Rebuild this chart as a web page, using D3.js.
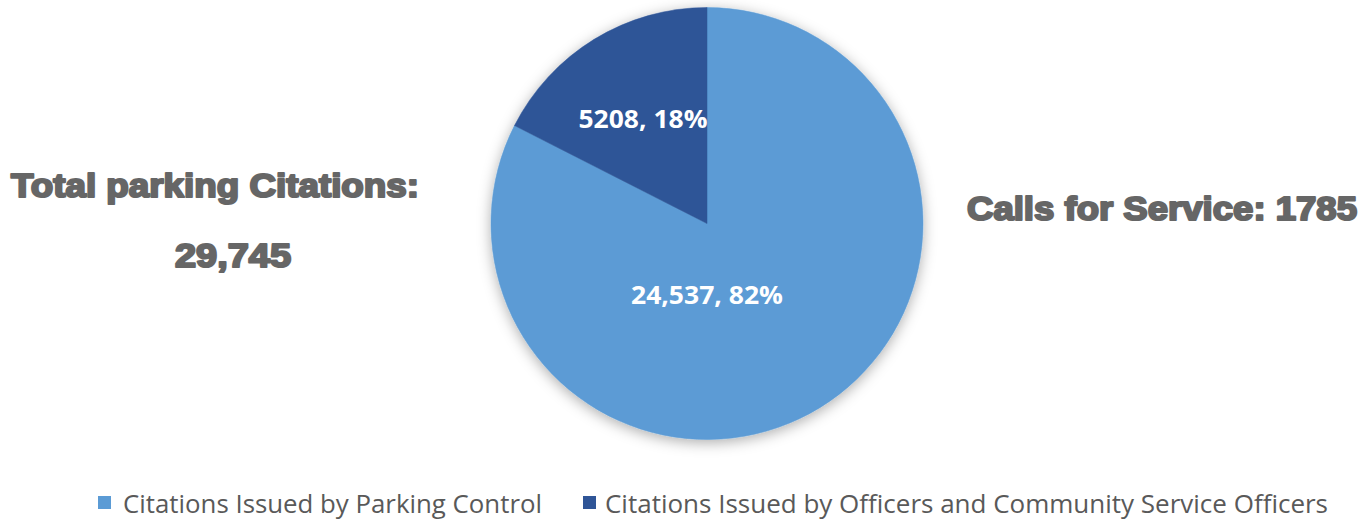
<!DOCTYPE html>
<html>
<head>
<meta charset="utf-8">
<script src="https://cdn.jsdelivr.net/npm/d3@7"></script>
<style>
  html, body { margin: 0; padding: 0; background: #ffffff; }
  svg { display: block; }
</style>
</head>
<body>
<svg id="chart" width="1370" height="520"></svg>
<script>
// ---- data ----
const categories = ["Citations Issued by Parking Control", "Citations Issued by Officers and Community Service Officers"];
const values = [24537, 5208];
const valueLabels = ["24,537", "5208"];
const percentLabels = ["82%", "18%"];
const colors = ["#5B9BD5", "#2F5597"];
const sideTitles = ["Total parking Citations:", "29,745", "Calls for Service: 1785"];

// ---- layout ----
const W = 1370, H = 520;
const cx = 707, cy = 223.5, R = 216;
const svg = d3.select("#chart");

const defs = svg.append("defs");
const f = defs.append("filter").attr("id", "shadow")
  .attr("x", "-20%").attr("y", "-20%").attr("width", "140%").attr("height", "140%");
f.append("feDropShadow").attr("dx", 0).attr("dy", 3).attr("stdDeviation", 7)
  .attr("flood-color", "#000").attr("flood-opacity", 0.32);

const data = categories.map((c, i) => ({ cat: c, value: values[i], vl: valueLabels[i], pl: percentLabels[i], color: colors[i] }));
const pie = d3.pie().value(d => d.value).sort(null);
const arcs = pie(data);
const arc = d3.arc().innerRadius(0).outerRadius(R);

const g = svg.append("g").attr("transform", `translate(${cx},${cy})`);
const pieG = g.append("g").attr("filter", "url(#shadow)");
pieG.selectAll("path").data(arcs).enter().append("path")
  .attr("d", arc)
  .attr("fill", d => d.data.color)
  .attr("stroke", d => d.data.color)
  .attr("stroke-width", 0.5);

// label placement (fraction of radius, angle) for each slice
const labelPlace = [
  { r: 0.33, angle: d => Math.PI, tl: 152 },
  { r: 0.567, angle: d => (d.startAngle + d.endAngle) / 2, tl: 129 }
];
g.selectAll("text.lbl").data(arcs).enter().append("text")
  .attr("class", "lbl")
  .attr("x", (d, i) => Math.sin(labelPlace[i].angle(d)) * R * labelPlace[i].r)
  .attr("y", (d, i) => -Math.cos(labelPlace[i].angle(d)) * R * labelPlace[i].r)
  .attr("dy", "0.36em")
  .attr("text-anchor", "middle")
  .attr("font-family", "'Open Sans', Lato, sans-serif")
  .attr("font-weight", 700)
  .attr("font-size", 25)
  .attr("fill", "#ffffff")
  .attr("textLength", (d, i) => labelPlace[i].tl)
  .attr("lengthAdjust", "spacingAndGlyphs")
  .text(d => `${d.data.vl}, ${d.data.pl}`);

// side titles
const titleStyle = sel => sel
  .attr("font-family", "'Liberation Sans', Arial, sans-serif")
  .attr("font-weight", 700)
  .attr("font-size", 34)
  .attr("fill", "#666666")
  .attr("stroke", "#666666")
  .attr("stroke-width", 2.2)
  .attr("stroke-linejoin", "round")
  .attr("lengthAdjust", "spacingAndGlyphs");

svg.append("text").call(titleStyle)
  .attr("x", 11).attr("y", 197).attr("textLength", 408).text(sideTitles[0]);
svg.append("text").call(titleStyle)
  .attr("x", 175).attr("y", 267).attr("textLength", 116).text(sideTitles[1]);
svg.append("text").call(titleStyle)
  .attr("x", 967).attr("y", 220).attr("textLength", 390).text(sideTitles[2]);

// legend
const legendItems = [
  { x: 98, tx: 123, tl: 419 },
  { x: 583, tx: 605, tl: 723 }
];
const lg = svg.append("g");
lg.selectAll("rect").data(data).enter().append("rect")
  .attr("x", (d, i) => legendItems[i].x)
  .attr("y", 496)
  .attr("width", 13).attr("height", 13)
  .attr("fill", d => d.color);
lg.selectAll("text").data(data).enter().append("text")
  .attr("x", (d, i) => legendItems[i].tx)
  .attr("y", 513)
  .attr("font-family", "'Open Sans', Lato, sans-serif")
  .attr("font-size", 25)
  .attr("fill", "#595959")
  .attr("textLength", (d, i) => legendItems[i].tl)
  .attr("lengthAdjust", "spacingAndGlyphs")
  .text(d => d.cat);
</script>
</body>
</html>
